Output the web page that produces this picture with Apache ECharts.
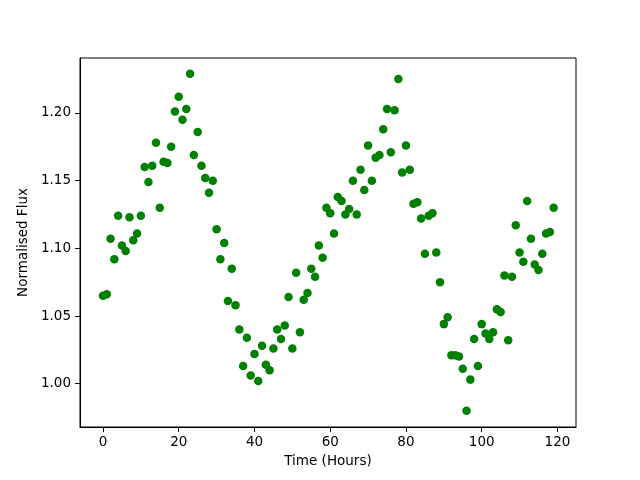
<!DOCTYPE html>
<html>
<head>
<meta charset="utf-8">
<script src="https://cdn.jsdelivr.net/npm/echarts@6/dist/echarts.min.js"></script>
<style>
  html, body { margin: 0; padding: 0; background: #fff; }
  #chart { width: 640px; height: 480px; }
</style>
</head>
<body>
<div id="chart"></div>
<script>
// Time in hours, one reading per hour
const timeHours = [];
for (let i = 0; i < 120; i++) timeHours.push(i);

// Normalised flux
const flux = [
  1.065, 1.066, 1.107, 1.092, 1.124, 1.102, 1.098, 1.123, 1.106, 1.111,
  1.124, 1.160, 1.149, 1.161, 1.178, 1.130, 1.164, 1.163, 1.175, 1.201,
  1.212, 1.195, 1.203, 1.229, 1.169, 1.186, 1.161, 1.152, 1.141, 1.150,
  1.114, 1.092, 1.104, 1.061, 1.085, 1.058, 1.040, 1.013, 1.034, 1.006,
  1.022, 1.002, 1.028, 1.014, 1.010, 1.026, 1.040, 1.033, 1.043, 1.064,
  1.026, 1.082, 1.038, 1.062, 1.067, 1.085, 1.079, 1.102, 1.093, 1.130,
  1.126, 1.111, 1.138, 1.135, 1.125, 1.129, 1.150, 1.125, 1.158, 1.143,
  1.176, 1.150, 1.167, 1.169, 1.188, 1.203, 1.171, 1.202, 1.225, 1.156,
  1.176, 1.158, 1.133, 1.134, 1.122, 1.096, 1.124, 1.126, 1.097, 1.075,
  1.044, 1.049, 1.021, 1.021, 1.020, 1.011, 0.980, 1.003, 1.033, 1.013,
  1.044, 1.037, 1.033, 1.038, 1.055, 1.053, 1.080, 1.032, 1.079, 1.117,
  1.097, 1.090, 1.135, 1.107, 1.088, 1.084, 1.096, 1.111, 1.112, 1.130
];

const xTicks = [0, 20, 40, 60, 80, 100, 120];
const yTicks = [1.00, 1.05, 1.10, 1.15, 1.20];

function jsMain() {
  const chart = echarts.init(document.getElementById('chart'), null, { renderer: 'canvas' });
  const font = 'DejaVu Sans';

  const points = timeHours.map((t, i) => [t, flux[i]]);

  const option = {
    animation: false,
    backgroundColor: '#ffffff',
    grid: {
      left: 80, right: 64, top: 58, bottom: 53,
      show: true,
      borderColor: '#000',
      borderWidth: 1,
      backgroundColor: 'transparent'
    },
    xAxis: {
      type: 'value',
      min: -6.07,
      max: 124.9,
      name: 'Time (Hours)',
      nameLocation: 'middle',
      nameGap: 27,
      nameTextStyle: { color: '#000', fontFamily: font, fontSize: 13.5 },
      axisLine: { show: true, onZero: false, lineStyle: { color: '#000', width: 1 } },
      axisTick: { show: true, length: 5, lineStyle: { color: '#000' }, customValues: xTicks },
      axisLabel: { color: '#000', fontFamily: font, fontSize: 13.5, margin: 8, customValues: xTicks },
      splitLine: { show: false }
    },
    yAxis: {
      type: 'value',
      min: 0.968,
      max: 1.2406,
      name: 'Normalised Flux',
      nameLocation: 'middle',
      nameGap: 41,
      nameTextStyle: { color: '#000', fontFamily: font, fontSize: 13.5 },
      axisLine: { show: true, onZero: false, lineStyle: { color: '#000', width: 1 } },
      axisTick: { show: true, length: 5, lineStyle: { color: '#000' }, customValues: yTicks },
      axisLabel: {
        color: '#000', fontFamily: font, fontSize: 13.5, margin: 9,
        customValues: yTicks,
        formatter: v => v.toFixed(2)
      },
      splitLine: { show: false }
    },
    series: [{
      type: 'scatter',
      data: points,
      symbol: 'circle',
      symbolSize: 8.5,
      itemStyle: { color: '#008000', opacity: 1 }
    }]
  };

  chart.setOption(option);
}

jsMain();
</script>
</body>
</html>
